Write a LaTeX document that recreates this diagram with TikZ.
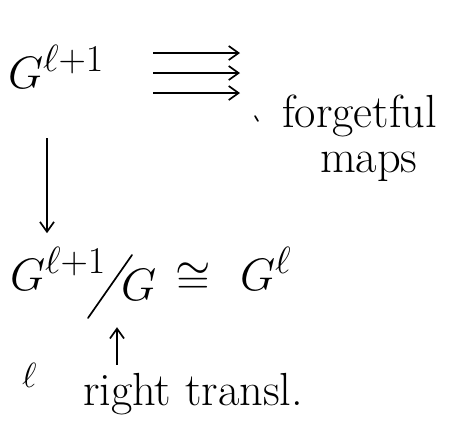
\documentclass[tikz,border=0pt]{standalone}
\usetikzlibrary{arrows.meta,positioning}
\newcommand{\bigmath}[1]{\scalebox{1.3}{\fontsize{24.88}{30}\selectfont$#1$}}
\begin{document}
\begin{tikzpicture}[x=0.025cm, y=-0.025cm, >={Straight Barb[length=7pt,width=10pt]},
    line width=1.2pt,
    every node/.style={inner sep=0pt, outer sep=0pt},
    hand/.style={font=\fontsize{33}{40}\selectfont}]
    \useasboundingbox (0,0) rectangle (467,423);

    % 1. Top group and the forgetful maps
    \node[anchor=base west] (top) at (8,88) {\bigmath{G^{\ell+1}}};
    \foreach \i/\y in {1/53, 2/73, 3/93} {
        \coordinate (fs\i) at (153,\y);
        \coordinate (fe\i) at (240,\y);
        \draw[->] (fs\i) -- (fe\i);
    }
    \draw[line cap=round] (255,116) -- (258,121);
    \node[hand, anchor=base west] (fg) at (282,127) {forgetful};
    \node[hand, anchor=base west] (mp) at (320,172) {maps};

    % 2. Quotient
    \coordinate (dx) at (47,0);
    \node[anchor=base west] (num) at (10,290) {\bigmath{G^{\ell+1}}};
    \draw[line cap=round] (88,318) -- (132,255);
    \node[anchor=base west] (den) at (121,300) {\bigmath{G}};
    \node (iso) at (193,279) {\bigmath{\cong}};
    \node[anchor=base west] (gl) at (240,290) {\bigmath{G^{\ell}}};
    \draw[->, shorten <=1.25cm, shorten >=0.35cm] (top.south -| dx) -- (num.north -| dx);

    % 3. Right translation
    \coordinate (ux) at (117,0);
    \node[anchor=base west] (ell) at (22,387) {\fontsize{24.88}{30}\selectfont$\ell$};
    \node[hand, anchor=base west] (rt) at (83,405) {right transl.};
    \draw[->, shorten <=0.2cm, shorten >=0.68cm] (rt.north -| ux) -- (den.south -| ux);
\end{tikzpicture}
\end{document}
